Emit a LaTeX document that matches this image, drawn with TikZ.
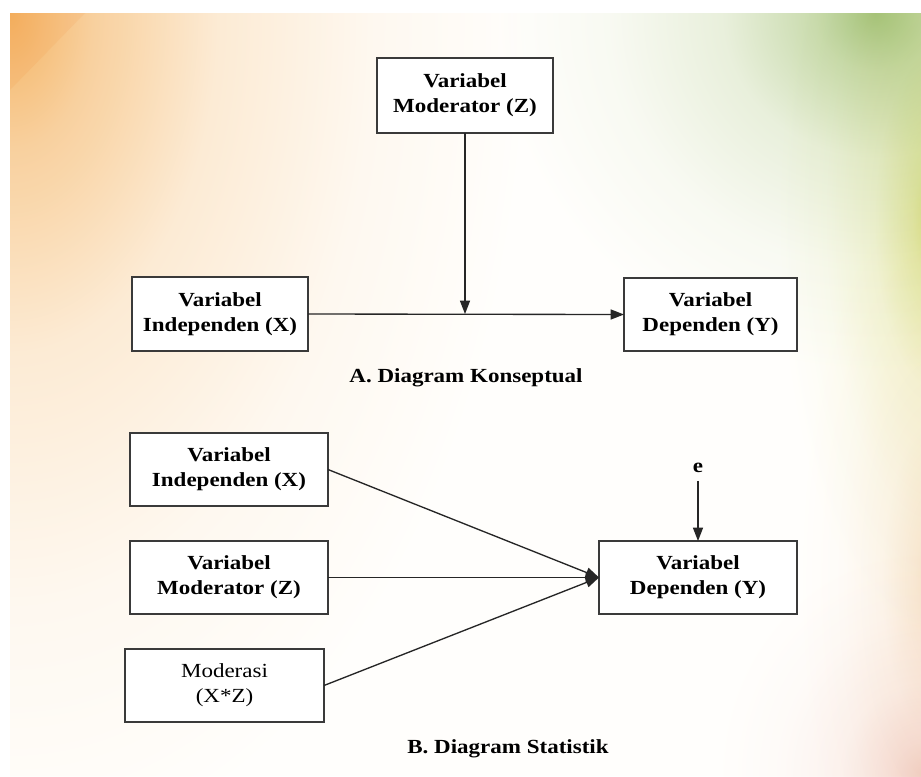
\documentclass[tikz,border=0pt]{standalone}
\usepackage{fontspec}
\setmainfont{Liberation Serif}[FakeStretch=1.15]
\usetikzlibrary{arrows.meta,calc}

\definecolor{glowOrange}{HTML}{F4B566}
\definecolor{glowGreen}{HTML}{A9C782}
\definecolor{glowLime}{HTML}{DCE07E}
\definecolor{glowPeach}{HTML}{F6DEC4}
\definecolor{glowPink}{HTML}{F2D2CA}
\definecolor{edgeGray}{HTML}{3A3A3A}
\colorlet{glowcolor}{glowOrange}

% radial glow fading to white with a soft fall-off; its colour is taken from glowcolor
% (the 25bp ring is stretched onto the rim of the shaded path)
\pgfdeclareradialshading[glowcolor]{glow}{\pgfpointorigin}{%
  color(0bp)=(glowcolor); color(4bp)=(glowcolor!62!white);
  color(10bp)=(glowcolor!26!white); color(17.5bp)=(glowcolor!8!white);
  color(25bp)=(white); color(50bp)=(white)}

\begin{document}
\begin{tikzpicture}[x=0.75pt,y=-0.75pt,
  every node/.style={inner sep=0pt, outer sep=0pt},
  sz/.style 2 args={minimum width=#1*0.75pt, minimum height=#2*0.75pt},
  varbox/.style={draw=edgeGray, line width=1.1pt, fill=white, align=center,
    font=\fontsize{15}{18.75}\selectfont\bfseries},
  plainbox/.style={varbox, font=\fontsize{15}{18.75}\selectfont},
  caption/.style={font=\fontsize{15}{18}\selectfont\bfseries},
  conn/.style={draw=black!85, line width=1pt, -{Triangle[length=10pt,width=7.5pt]}},
  glowing/.style={/utils/exec={\colorlet{glowcolor}{#1}}, shading=glow}]

% ---- backdrop ----
\useasboundingbox (0,0) rectangle (921,776);
\fill[white] (0,0) rectangle (921,776);
\begin{scope}
  \clip (10,13) rectangle (921,776);
  \fill[white!99!orange] (10,13) rectangle (921,776);
  \begin{scope}[blend mode=multiply]
    \shade[glowing=glowOrange] (10,13) ellipse [x radius=520, y radius=850];
    \fill[glowOrange!12] (10,13) -- (85,13) -- (10,90) -- cycle;
    \shade[glowing=glowGreen] (875,13) ellipse [x radius=380, y radius=360];
    \shade[glowing=glowLime] (938,220) ellipse [x radius=160, y radius=430];
    \shade[glowing=glowPeach] (938,580) ellipse [x radius=140, y radius=400];
    \shade[glowing=glowPink] (925,776) ellipse [x radius=210, y radius=230];
  \end{scope}
\end{scope}

% ---- A. conceptual diagram ----
\node[varbox, sz={176}{75}] (zA) at (465,95.5) {Variabel\\Moderator (Z)};
\node[varbox, sz={176}{74}] (xA) at (220,314) {Variabel\\Independen (X)};
\node[varbox, sz={173}{73}] (yA) at (710.5,314.5) {Variabel\\Dependen (Y)};
\coordinate (joinA) at (zA.south |- xA.east);
\draw[conn] (xA.east) -- (yA.west);
\draw[conn] (zA.south) -- (joinA);
\node[caption] (capA) at (466,378) {A. Diagram Konseptual};

% ---- B. statistical diagram ----
\node[varbox, sz={198}{73}] (xB) at (229,469.5) {Variabel\\Independen (X)};
\node[varbox, sz={198}{73}] (zB) at (229,577.5) {Variabel\\Moderator (Z)};
\node[plainbox, sz={199}{73}] (mB) at (224.5,685.5) {Moderasi\\(X*Z)};
\node[varbox, sz={198}{73}] (yB) at (698,577.5) {Variabel\\Dependen (Y)};
\node[font=\fontsize{15}{18}\selectfont\bfseries] (eB) at (698,468) {e};
\draw[conn] (xB.east) -- (yB.west);
\draw[conn] (zB.east) -- (yB.west);
\draw[conn] (mB.east) -- (yB.west);
\draw[conn, shorten <=6pt] (eB.south) -- (yB.north);
\node[caption] (capB) at (508,749) {B. Diagram Statistik};
\end{tikzpicture}
\end{document}
